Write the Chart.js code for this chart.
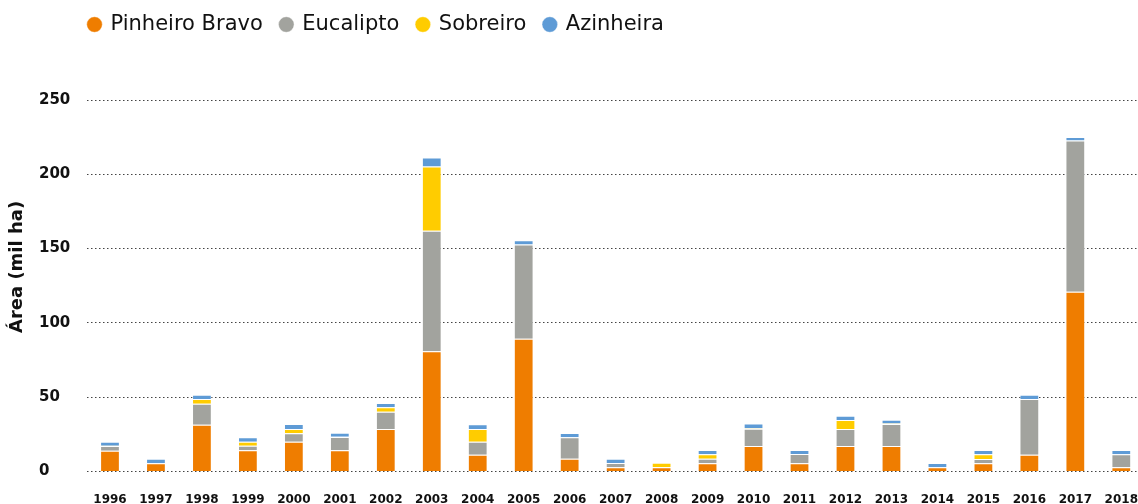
<!DOCTYPE html>
<html>
<head>
<meta charset="utf-8">
<script src="https://cdn.jsdelivr.net/npm/chart.js@4"></script>
<style>
  html, body { margin: 0; padding: 0; background: #fff; overflow: hidden; }
  #caixa { width: 1151px; height: 504px; position: relative; }
</style>
</head>
<body>
<div id="caixa"><canvas id="areaArdida"></canvas></div>
<script>
// área ardida por espécie (mil ha)
const anos = ['1996','1997','1998','1999','2000','2001','2002','2003','2004','2005','2006','2007',
              '2008','2009','2010','2011','2012','2013','2014','2015','2016','2017','2018'];
const pinheiroBravo = [14, 5.5, 31.5, 14.3, 20, 14.3, 28.6, 81, 11.3, 89.3, 8.6, 2.8,
                       2.8, 5.5, 17.2, 5.5, 17.2, 17.2, 2.8, 5.5, 11.3, 121, 2.8];
const eucalipto     = [3.2, 0.3, 14.1, 3.1, 5.7, 8.9, 11.6, 81, 8.7, 63.5, 14.4, 2.9,
                       0.2, 3.1, 11.6, 6.3, 11.4, 14.8, 0, 2.9, 37.5, 101.8, 8.8];
const sobreiro      = [0.2, 0, 3.2, 2.6, 2.9, 0.2, 3.0, 43.3, 8.6, 0, 0, 0,
                       2.9, 3.0, 0.3, 0, 6.1, 0.3, 0, 3.2, 0, 0, 0];
const azinheira     = [2.7, 2.8, 2.9, 3.0, 3.4, 2.7, 2.9, 6, 3.2, 2.9, 2.9, 2.9,
                       0, 2.9, 3.2, 2.7, 2.9, 2.5, 2.9, 2.9, 2.9, 2.3, 2.9];
const ticksY = [0, 50, 100, 150, 200, 250];

const fonte = "'DejaVu Sans', sans-serif";

// legenda encostada ao topo e com espaço por baixo
const posLegenda = {
  id: 'posLegenda',
  beforeUpdate(chart) {
    const leg = chart.legend;
    if (leg && !leg._ajustada) {
      const fitOrig = leg.fit;
      leg.fit = function () { fitOrig.call(this); this.height = 100; };
      leg._ajustada = true;
    }
  },
  afterLayout(chart) {
    chart.legend.left = 71;
    chart.legend.top = -4;
  }
};

function serie(nome, valores, cor) {
  return {
    label: nome,
    data: valores,
    backgroundColor: cor,
    borderColor: 'rgba(255,255,255,0.4)',
    borderWidth: 1,
    barPercentage: 0.43,
    categoryPercentage: 1
  };
}

new Chart(document.getElementById('areaArdida'), {
  type: 'bar',
  data: {
    labels: anos,
    datasets: [
      serie('Pinheiro Bravo', pinheiroBravo, '#EF7D00'),
      serie('Eucalipto', eucalipto, '#A2A39E'),
      serie('Sobreiro', sobreiro, '#FFCC00'),
      serie('Azinheira', azinheira, '#5E9BD6')
    ]
  },
  plugins: [posLegenda],
  options: {
    responsive: true,
    maintainAspectRatio: false,
    animation: false,
    layout: { padding: { left: 39 } },
    plugins: {
      tooltip: { enabled: false },
      legend: {
        position: 'top',
        align: 'start',
        labels: {
          usePointStyle: true,
          pointStyle: 'circle',
          boxWidth: 11,
          boxHeight: 11,
          padding: 18,
          color: '#111',
          font: { family: fonte, size: 21 }
        }
      }
    },
    scales: {
      x: {
        stacked: true,
        grid: { display: false },
        border: { display: false },
        ticks: {
          color: '#111',
          font: { family: fonte, size: 12, weight: 'bold' },
          padding: 13,
          maxRotation: 0,
          autoSkip: false
        },
        afterFit(eixo) { eixo.height = 32.5; }
      },
      y: {
        stacked: true,
        min: 0,
        max: 250,
        afterBuildTicks(eixo) { eixo.ticks = ticksY.map(v => ({ value: v })); },
        grid: { color: '#444', lineWidth: 1, drawTicks: false },
        border: { display: false, dash: [1.5, 2.5] },
        ticks: {
          color: '#111',
          crossAlign: 'far',
          padding: 0,
          font: { family: fonte, size: 15, weight: 'bold' }
        },
        title: {
          display: true,
          text: '      Área (mil ha)',
          color: '#111',
          font: { family: fonte, size: 18, weight: 'bold' },
          padding: { top: -32, bottom: 0 }
        },
        afterFit(eixo) { eixo.width = 48; }
      }
    }
  }
});
</script>
</body>
</html>
